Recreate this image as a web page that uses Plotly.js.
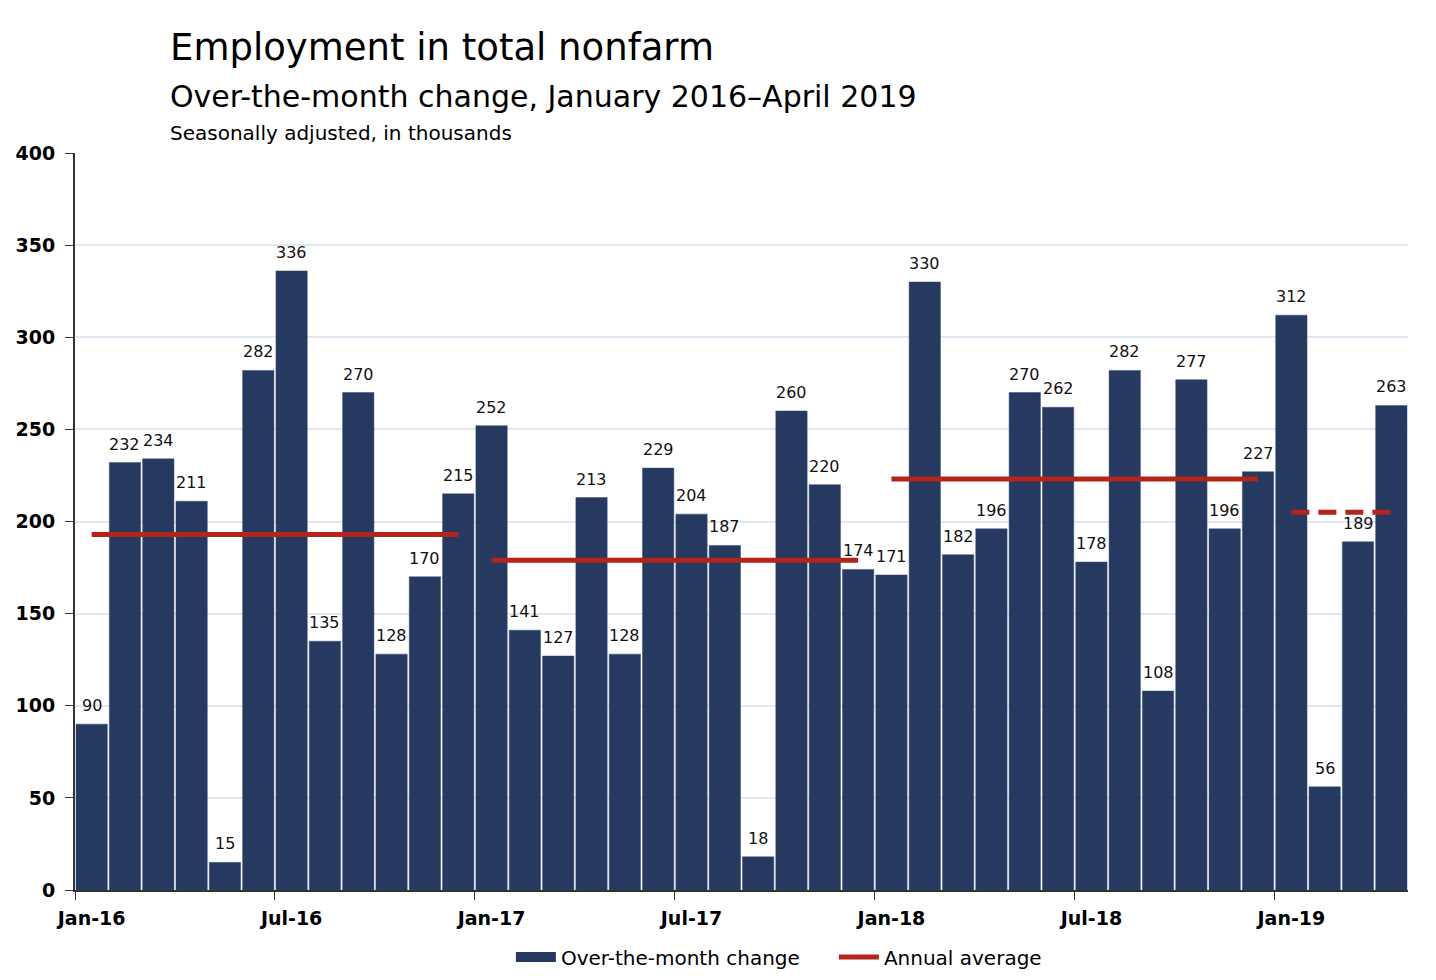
<!DOCTYPE html>
<html lang="en">
    <head>
        <meta charset="UTF-8" />
        <script src="https://cdn.plot.ly/plotly-3.0.1.min.js"></script>
        <title>Employment in total nonfarm</title>
        <style>
            body { margin: 0; background: #fff; }
            #chart { width: 1436px; height: 980px; }
        </style>
    </head>
    <body>
        <div id="chart"></div>
    </body>
    <script>
        // Month labels, Jan-16 .. Apr-19
        const months = [
            "Jan-16", "Feb-16", "Mar-16", "Apr-16", "May-16", "Jun-16",
            "Jul-16", "Aug-16", "Sep-16", "Oct-16", "Nov-16", "Dec-16",
            "Jan-17", "Feb-17", "Mar-17", "Apr-17", "May-17", "Jun-17",
            "Jul-17", "Aug-17", "Sep-17", "Oct-17", "Nov-17", "Dec-17",
            "Jan-18", "Feb-18", "Mar-18", "Apr-18", "May-18", "Jun-18",
            "Jul-18", "Aug-18", "Sep-18", "Oct-18", "Nov-18", "Dec-18",
            "Jan-19", "Feb-19", "Mar-19", "Apr-19"
        ];

        // Over-the-month change, thousands
        const changes = [
            90, 232, 234, 211, 15, 282, 336, 135, 270, 128, 170, 215,
            252, 141, 127, 213, 128, 229, 204, 187, 18, 260, 220, 174,
            171, 330, 182, 196, 270, 262, 178, 282, 108, 277, 196, 227,
            312, 56, 189, 263
        ];

        // Annual averages
        const avgStart = ["Jan-16", "Jan-17", "Jan-18", "Jan-19"];
        const avgEnd = ["Dec-16", "Dec-17", "Dec-18", "Apr-19"];
        const avgValues = [193, 179, 223, 205];

        const navy = "#253961";
        const red = "#b3241b";
        const font = "DejaVu Sans, Verdana, sans-serif";

        const data = [
            {
                type: "bar",
                x: months,
                y: changes,
                name: "Over-the-month change",
                showlegend: false,
                marker: { color: navy, line: { color: "#3a4d75", width: 0.5 } },
                hoverinfo: "x+y",
            },
            // legend swatch for the bars (wide rectangle)
            {
                type: "scatter",
                mode: "lines",
                x: [null],
                y: [null],
                name: "Over-the-month change",
                line: { color: navy, width: 12 },
                hoverinfo: "skip",
            },
        ];

        avgValues.forEach((v, i) => {
            data.push({
                type: "scatter",
                mode: "lines",
                x: [avgStart[i], avgEnd[i]],
                y: [v, v],
                name: "Annual average",
                legendgroup: "avg",
                showlegend: i === 0,
                line: {
                    color: red,
                    width: 5,
                    dash: i === 3 ? "18px,9px" : "solid",
                },
            });
        });

        // value labels above the bars
        const valueLabels = months.map((m, i) => ({
            x: m,
            y: changes[i],
            xref: "x",
            yref: "y",
            text: String(changes[i]),
            showarrow: false,
            xanchor: "center",
            yanchor: "bottom",
            yshift: 7,
            font: { family: font, size: 16, color: "#111" },
        }));

        const titles = [
            {
                text: "Employment in total nonfarm",
                xref: "paper", yref: "paper",
                x: 0.0698, y: 1.1425,
                xanchor: "left", yanchor: "middle",
                showarrow: false,
                font: { family: font, size: 37 },
            },
            {
                text: "Over-the-month change, January 2016\u2013April 2019",
                xref: "paper", yref: "paper",
                x: 0.0698, y: 1.076,
                xanchor: "left", yanchor: "middle",
                showarrow: false,
                font: { family: font, size: 30 },
            },
            {
                text: "Seasonally adjusted, in thousands",
                xref: "paper", yref: "paper",
                x: 0.0698, y: 1.027,
                xanchor: "left", yanchor: "middle",
                showarrow: false,
                font: { family: font, size: 20 },
            },
        ];

        const layout = {
            width: 1436,
            height: 980,
            margin: { l: 75, r: 28, t: 153, b: 90, autoexpand: false },
            paper_bgcolor: "#fff",
            plot_bgcolor: "#fff",
            font: { family: font, color: "#000" },
            bargap: 0.06,
            xaxis: {
                type: "category",
                categoryorder: "array",
                categoryarray: months,
                dtick: 6,
                tickson: "boundaries",
                tickangle: 0,
                ticks: "outside",
                ticklen: 8,
                tickcolor: "#333",
                ticklabelstandoff: 10,
                showgrid: false,
                showline: true,
                linecolor: "#333",
                linewidth: 2,
                tickfont: { family: font, size: 19, weight: "bold" },
                range: [-0.5, 39.5],
            },
            yaxis: {
                range: [0, 400],
                dtick: 50,
                ticks: "outside",
                ticklen: 8,
                tickcolor: "#333",
                ticklabelstandoff: 6,
                showline: true,
                linecolor: "#333",
                linewidth: 2,
                gridcolor: "#e3e7f4",
                gridwidth: 1.5,
                zeroline: false,
                tickfont: { family: font, size: 19, weight: "bold" },
            },
            showlegend: true,
            legend: {
                orientation: "h",
                x: 0.327,
                xanchor: "left",
                y: -0.091,
                yanchor: "middle",
                font: { family: font, size: 20 },
                itemwidth: 40,
                entrywidth: 268,
            },
            annotations: titles.concat(valueLabels),
        };

        Plotly.newPlot("chart", data, layout, { displayModeBar: false });
    </script>
</html>
